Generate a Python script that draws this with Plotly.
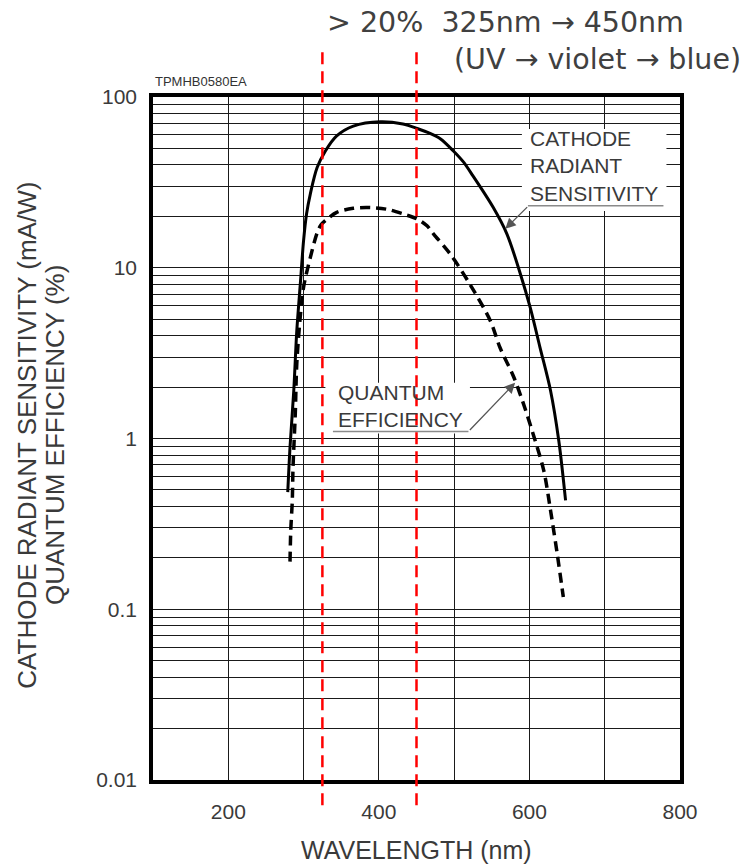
import math
import plotly.graph_objects as go

# ---- data ----
wl_crs = [279, 282, 287, 291, 296, 300, 304, 309, 318, 329, 344, 366, 402, 432, 451, 468, 482, 499, 512, 525, 552, 570, 588, 601, 614, 628, 639, 648]
crs = [0.485, 0.89, 1.91, 4.28, 8.4, 14.4, 20.7, 27.1, 38.6, 48.3, 59.2, 67.6, 71.7, 69.5, 65.4, 61.2, 56.8, 48.3, 41.8, 34.5, 22.5, 15.8, 9.2, 5.86, 3.42, 1.91, 0.97, 0.434]

wl_qe = [282, 283, 285, 286, 289, 291, 296, 300, 309, 318, 323, 329, 344, 366, 389, 411, 433, 451, 464, 473, 495, 521, 548, 561, 579, 592, 605, 619, 628, 637, 645]
qe = [0.19, 0.29, 0.43, 0.68, 1.4, 2.75, 5.4, 7.7, 11.5, 16.0, 17.8, 18.9, 21.1, 22.3, 22.5, 22.0, 20.6, 19.3, 17.6, 15.7, 12.0, 8.0, 4.9, 3.4, 2.3, 1.6, 1.06, 0.65, 0.38, 0.21, 0.118]

band_edges = [325, 450]
x_tick_vals = [200, 400, 600, 800]
x_tick_text = ["200", "400", "600", "800"]
y_tick_vals = [0.01, 0.1, 1, 10, 100]
y_tick_text = ["0.01", "0.1", "1", "10", "100"]

FONT = "Liberation Sans, Arial, sans-serif"
HFONT = "DejaVu Sans, Liberation Sans, sans-serif"
TXT = "#3a3a3a"
GRID = "#1a1a1a"
L = math.log10  # annotations on a log axis take log10 positions

fig = go.Figure()
fig.add_trace(go.Scatter(x=wl_crs, y=crs, mode="lines",
                         line=dict(color="black", width=3, shape="spline", smoothing=0.9),
                         showlegend=False, hoverinfo="skip"))
fig.add_trace(go.Scatter(x=wl_qe, y=qe, mode="lines",
                         line=dict(color="black", width=3.5, dash="10px,6px", shape="spline", smoothing=0.9),
                         showlegend=False, hoverinfo="skip"))

shapes = []
# white masks behind the callout texts (hide grid lines only)
shapes.append(dict(type="rect", xref="x", yref="y", x0=590, x1=782, y0=21.5, y1=65,
                   fillcolor="white", line=dict(width=0), layer="between"))
shapes.append(dict(type="rect", xref="x", yref="y", x0=329, x1=521, y0=1.07, y1=2.12,
                   fillcolor="white", line=dict(width=0), layer="between"))
# underlines of callouts
shapes.append(dict(type="line", xref="x", yref="y", x0=598, x1=778, y0=23.1, y1=23.1,
                   line=dict(color="#8a8a8a", width=1.5), layer="above"))
shapes.append(dict(type="line", xref="x", yref="y", x0=339, x1=519, y0=1.10, y1=1.10,
                   line=dict(color="#8a8a8a", width=1.5), layer="above"))
# red band edges
for xv in band_edges:
    shapes.append(dict(type="line", xref="x", yref="paper", x0=xv, x1=xv, y0=-0.037, y1=1.073,
                       line=dict(color="#ff0000", width=2.5, dash="12px,7px"), layer="above"))

annotations = [
    dict(x=598, y=L(39.4), xref="x", yref="y", text="CATHODE<br>RADIANT<br>SENSITIVITY",
         showarrow=False, xanchor="left", yanchor="middle", align="left",
         font=dict(family=FONT, size=21, color=TXT)),
    dict(x=343, y=L(1.54), xref="x", yref="y", text="QUANTUM<br>EFFICIENCY",
         showarrow=False, xanchor="left", yanchor="middle", align="left",
         font=dict(family=FONT, size=21, color=TXT)),
    # arrows
    dict(x=568, y=L(16.9), xref="x", yref="y", ax=599, ay=L(23.1), axref="x", ayref="y",
         text="", showarrow=True, arrowhead=2, arrowsize=1.6, arrowwidth=1.3, arrowcolor="#555"),
    dict(x=581, y=L(2.12), xref="x", yref="y", ax=519, ay=L(1.10), axref="x", ayref="y",
         text="", showarrow=True, arrowhead=2, arrowsize=1.6, arrowwidth=1.3, arrowcolor="#555"),
    # axis titles
    dict(x=0.5, y=-0.1025, xref="paper", yref="paper", text="WAVELENGTH (nm)", showarrow=False,
         xanchor="center", yanchor="middle", font=dict(family=FONT, size=25, color=TXT)),
    dict(x=-0.238, y=0.505, xref="paper", yref="paper", text="CATHODE RADIANT SENSITIVITY (mA/W)",
         showarrow=False, textangle=-90, xanchor="center", yanchor="middle",
         font=dict(family=FONT, size=26, color=TXT)),
    dict(x=-0.186, y=0.505, xref="paper", yref="paper", text="QUANTUM EFFICIENCY (%)",
         showarrow=False, textangle=-90, xanchor="center", yanchor="middle",
         font=dict(family=FONT, size=26, color=TXT)),
    # code label
    dict(x=0.0, y=1.022, xref="paper", yref="paper", text="TPMHB0580EA", showarrow=False,
         xanchor="left", yanchor="middle", font=dict(family=FONT, size=13, color="#333")),
    # header text
    dict(x=(325 - 153) / 527, y=(780 - 22) / 683, xref="paper", yref="paper",
         text="&gt; 20%  325nm \u2192 450nm", showarrow=False, xanchor="left", yanchor="middle",
         font=dict(family=HFONT, size=28.5, color="#404040")),
    dict(x=(743 - 153) / 527, y=(780 - 60) / 683, xref="paper", yref="paper",
         text="(UV \u2192 violet \u2192 blue)", showarrow=False, xanchor="right", yanchor="middle",
         font=dict(family=HFONT, size=28.5, color="#404040")),
]

fig.update_layout(
    width=747, height=865,
    margin=dict(l=153, r=67, t=97, b=85),
    paper_bgcolor="white", plot_bgcolor="white",
    shapes=shapes, annotations=annotations,
    showlegend=False,
    xaxis=dict(range=[100, 800], tickmode="array", tickvals=x_tick_vals, ticktext=x_tick_text,
               showgrid=True, gridcolor=GRID, gridwidth=1.2,
               minor=dict(tick0=100, dtick=100, showgrid=True, gridcolor=GRID, gridwidth=1.2),
               showline=True, linecolor="black", linewidth=3.5, mirror=True,
               ticks="", ticklabelstandoff=10, zeroline=False,
               tickfont=dict(family=FONT, size=21, color=TXT)),
    yaxis=dict(type="log", range=[-2, 2], tickmode="array", tickvals=y_tick_vals, ticktext=y_tick_text,
               showgrid=True, gridcolor=GRID, gridwidth=1.2,
               minor=dict(dtick="D1", showgrid=True, gridcolor=GRID, gridwidth=1.2),
               showline=True, linecolor="black", linewidth=3.5, mirror=True,
               ticks="", ticklabelstandoff=8, zeroline=False,
               tickfont=dict(family=FONT, size=21, color=TXT)),
)

fig.write_html("out.html", config={"displayModeBar": False},
               post_script="document.body.style.margin='0px';document.body.style.overflow='hidden';")
